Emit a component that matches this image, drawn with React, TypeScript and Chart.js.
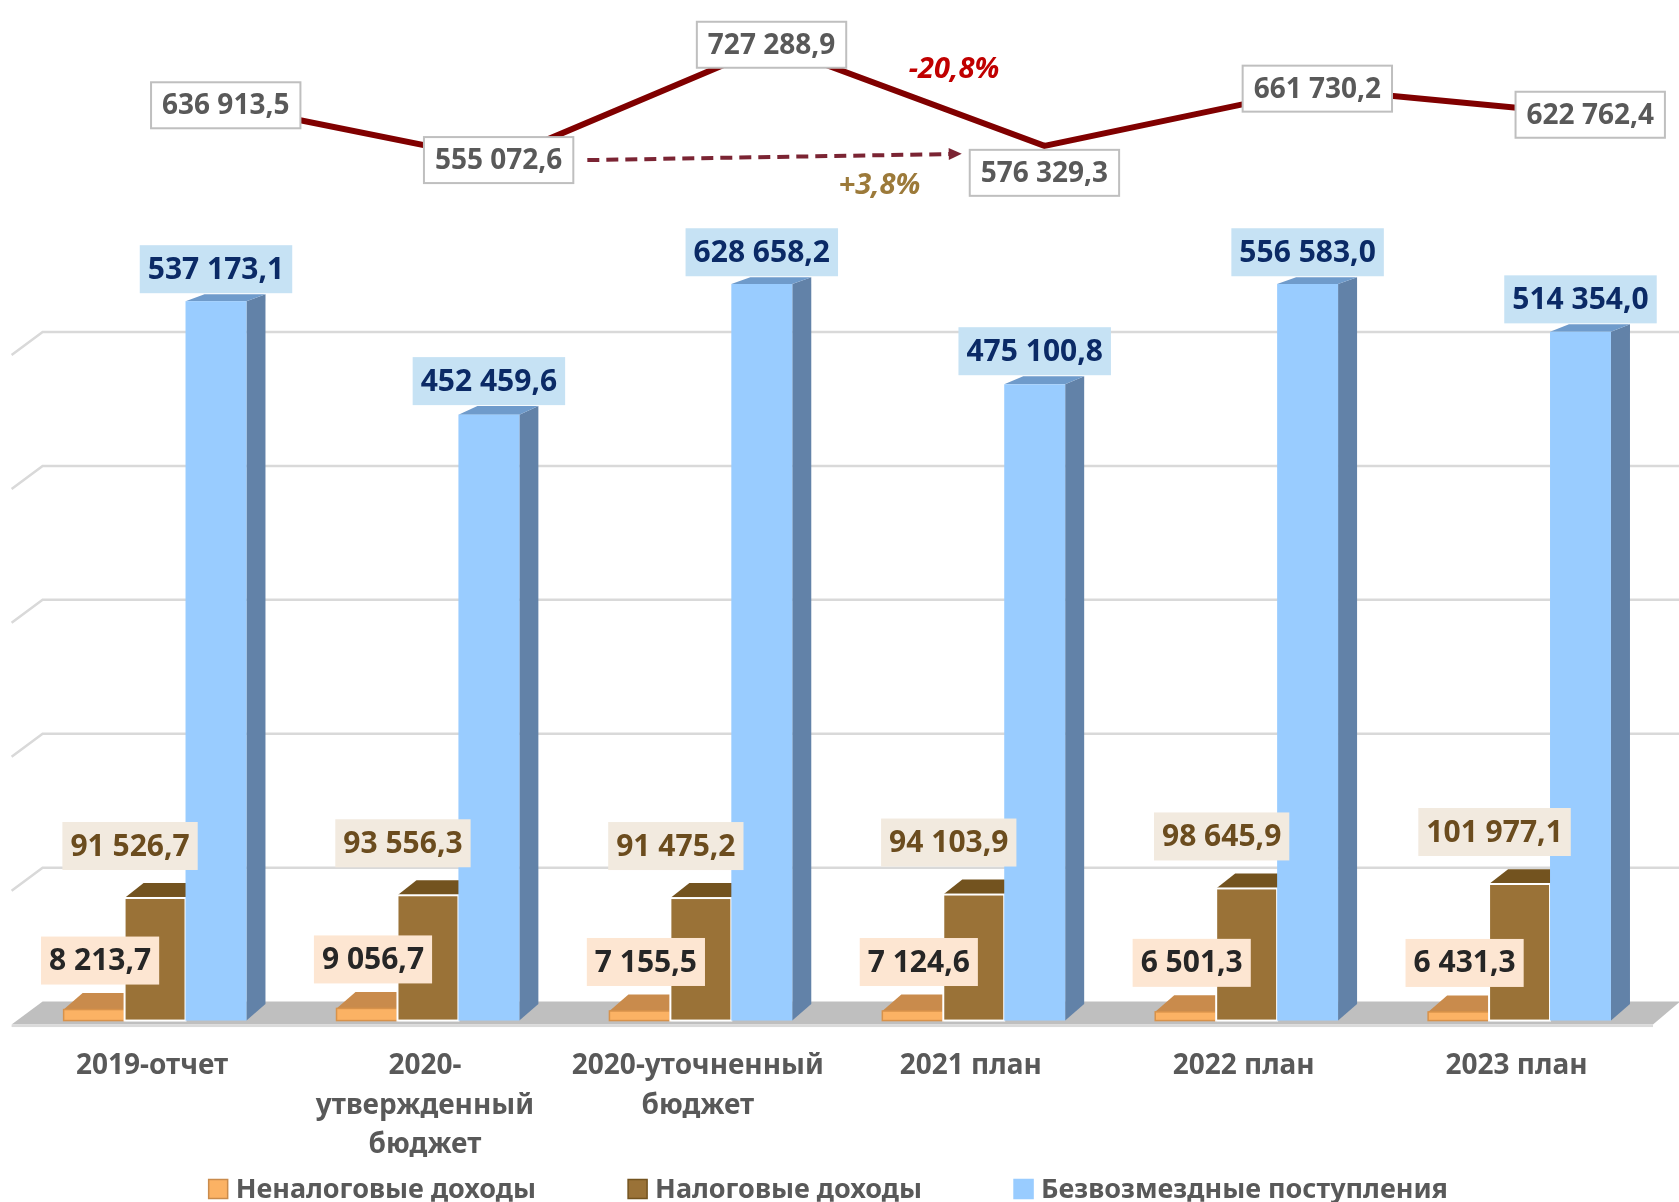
import React, { useEffect, useRef } from 'react';
import { Chart, registerables } from 'chart.js';

Chart.register(...registerables);

// ---------- data ----------
const categories: (string | string[])[] = [
  '2019-отчет',
  ['2020-', 'утвержденный', 'бюджет'],
  ['2020-уточненный', 'бюджет'],
  '2021 план',
  '2022 план',
  '2023 план',
];
const seriesNames = ['Неналоговые доходы', 'Налоговые доходы', 'Безвозмездные поступления'];
const nonTaxIncome = [8213.7, 9056.7, 7155.5, 7124.6, 6501.3, 6431.3];
const taxIncome = [91526.7, 93556.3, 91475.2, 94103.9, 98645.9, 101977.1];
const grants = [537173.1, 452459.6, 628658.2, 475100.8, 556583.0, 514354.0];
const totals = [636913.5, 555072.6, 727288.9, 576329.3, 661730.2, 622762.4];
const gridValues = [100000, 200000, 300000, 400000, 500000];
const barAxisMax = 550000;
const changeDown = '-20,8%';
const changeUp = '+3,8%';

// ---------- styles ----------
const FONT = '"Noto Sans", "DejaVu Sans", sans-serif';
const DX = 19;
const PK = 0.01347;
const PH = -217;
const GROUP_FRACTION = 0.67;
const GROUP_SHIFT = 3;
const barStyles = [
  { front: '#FBB264', top: '#C98B4C', side: '#B27A3E', stroke: '#D8924A', strokeW: 1.5, label: '#FDE6D2', text: '#262626' },
  { front: '#9A7237', top: '#73531F', side: '#6B4E22', stroke: '#FFFFFF', strokeW: 2, label: '#F2EADF', text: '#6B4C1E' },
  { front: '#99CCFF', top: '#6F9BCB', side: '#6282A8', stroke: '', strokeW: 0, label: '#C6E2F4', text: '#0B2A66' },
];

function fmt(v: number): string {
  const [i, d] = v.toFixed(1).split('.');
  return i.replace(/\B(?=(\d{3})+(?!\d))/g, ' ') + ',' + d;
}

function poly(ctx: CanvasRenderingContext2D, pts: number[][], fill: string) {
  ctx.beginPath();
  ctx.moveTo(pts[0][0], pts[0][1]);
  for (let k = 1; k < pts.length; k++) ctx.lineTo(pts[k][0], pts[k][1]);
  ctx.closePath();
  ctx.fillStyle = fill;
  ctx.fill();
}

function barGeom(chart: any, d: number, i: number) {
  const ca = chart.chartArea;
  const xs = chart.scales.x;
  const ys = chart.scales.y;
  const cw = (xs.right - xs.left) / categories.length;
  const bw = (cw * GROUP_FRACTION) / 3;
  const cx = xs.getPixelForValue(i) + GROUP_SHIFT;
  const left = cx - 1.5 * bw + d * bw;
  const right = left + bw;
  const val = chart.data.datasets[d].data[i] as number;
  const top = Math.max(ys.getPixelForValue(val), ca.top);
  const base = ys.getPixelForValue(0);
  const dyT = PK * (top - PH);
  const dyB = PK * (base - PH);
  return { x: (left + right) / 2, left, right, top, base, dyT, dyB, val };
}

const threeDPlugin = {
  id: 'threeD',
  beforeDatasetDraw(chart: any, args: any) {
    if (args.meta.type === 'bar') return false;
    return true;
  },
  beforeDatasetsDraw(chart: any) {
    const ctx: CanvasRenderingContext2D = chart.ctx;
    const ca = chart.chartArea;
    const ys = chart.scales.y;
    const B = ys.getPixelForValue(0);
    const fl = ca.left - 4;
    const fb = ca.left + 27;
    ctx.save();
    // floor
    poly(ctx, [[fl, B + 4], [ca.right, B + 4], [ca.right + 27, B - 19], [fb, B - 19]], '#BFBFBF');
    ctx.fillStyle = '#DADADA';
    ctx.fillRect(fl, B + 4, ca.right - fl, 2.5);
    // wall gridlines
    ctx.strokeStyle = '#D9D9D9';
    ctx.lineWidth = 2.5;
    for (const v of gridValues) {
      const f = ys.getPixelForValue(v);
      ctx.beginPath();
      ctx.moveTo(fl, f + 4);
      ctx.lineTo(fb, f - 19);
      ctx.lineTo(chart.width, f - 19);
      ctx.stroke();
    }
    // bars
    for (let i = 0; i < categories.length; i++) {
      for (let d = 0; d < 3; d++) {
        const g = barGeom(chart, d, i);
        const s = barStyles[d];
        poly(ctx, [[g.right, g.top], [g.right + DX, g.top - g.dyT], [g.right + DX, g.base - g.dyB], [g.right, g.base]], s.side);
        poly(ctx, [[g.left, g.top], [g.left + DX, g.top - g.dyT], [g.right + DX, g.top - g.dyT], [g.right, g.top]], s.top);
        ctx.fillStyle = s.front;
        ctx.fillRect(g.left, g.top, g.right - g.left, g.base - g.top);
        if (s.strokeW) {
          ctx.strokeStyle = s.stroke;
          ctx.lineWidth = s.strokeW;
          ctx.strokeRect(g.left, g.top, g.right - g.left, g.base - g.top);
        }
      }
    }
    ctx.restore();
  },
  afterDatasetsDraw(chart: any) {
    const ctx: CanvasRenderingContext2D = chart.ctx;
    ctx.save();
    ctx.textAlign = 'center';
    ctx.textBaseline = 'middle';
    // bar labels
    ctx.font = `bold 30px ${FONT}`;
    for (let i = 0; i < categories.length; i++) {
      for (let d = 0; d < 3; d++) {
        const g = barGeom(chart, d, i);
        const s = barStyles[d];
        const txt = fmt(g.val);
        const w = ctx.measureText(txt).width + 16;
        const h = 48;
        let cx: number, bottom: number;
        if (d === 2) { cx = g.x; bottom = g.top - g.dyT - 1; }
        else if (d === 1) { cx = g.x - 25; bottom = g.top - 28; }
        else { cx = g.x + 6; bottom = g.top - 25; }
        ctx.fillStyle = s.label;
        ctx.fillRect(cx - w / 2, bottom - h, w, h);
        ctx.fillStyle = s.text;
        ctx.fillText(txt, cx, bottom - h / 2 + 1);
      }
    }
    // line labels
    const lm = chart.getDatasetMeta(3);
    ctx.font = `bold 28px ${FONT}`;
    const boxes: { l: number; r: number; t: number; b: number; cy: number }[] = [];
    for (let i = 0; i < totals.length; i++) {
      const pt = lm.data[i];
      const txt = fmt(totals[i]);
      const w = ctx.measureText(txt).width + 22;
      const h = 46;
      const cy = i === 3 ? pt.y + 4 + h / 2 : pt.y;
      const b = { l: pt.x - w / 2, r: pt.x + w / 2, t: cy - h / 2, b: cy + h / 2, cy };
      boxes.push(b);
      ctx.fillStyle = '#FFFFFF';
      ctx.fillRect(b.l, b.t, w, h);
      ctx.strokeStyle = '#BFBFBF';
      ctx.lineWidth = 2;
      ctx.strokeRect(b.l, b.t, w, h);
      ctx.fillStyle = '#595959';
      ctx.fillText(txt, pt.x, cy + 1);
    }
    // dashed arrow from the 2020 approved total to the 2021 total
    const a0x = boxes[1].r + 14, a0y = boxes[1].cy;
    const a1x = boxes[3].l - 8, a1y = boxes[3].t + 4;
    ctx.strokeStyle = '#7B2433';
    ctx.fillStyle = '#7B2433';
    ctx.lineWidth = 4;
    ctx.setLineDash([12, 7]);
    ctx.beginPath();
    ctx.moveTo(a0x, a0y);
    ctx.lineTo(a1x - 10, a1y + ((a0y - a1y) * 10) / (a1x - a0x));
    ctx.stroke();
    ctx.setLineDash([]);
    const ang = Math.atan2(a1y - a0y, a1x - a0x);
    ctx.beginPath();
    ctx.moveTo(a1x, a1y);
    ctx.lineTo(a1x - 13 * Math.cos(ang) + 6 * Math.sin(ang), a1y - 13 * Math.sin(ang) - 6 * Math.cos(ang));
    ctx.lineTo(a1x - 13 * Math.cos(ang) - 6 * Math.sin(ang), a1y - 13 * Math.sin(ang) + 6 * Math.cos(ang));
    ctx.closePath();
    ctx.fill();
    // percentage labels
    ctx.font = `italic bold 29px ${FONT}`;
    const p3 = lm.data[2], p4 = lm.data[3];
    ctx.fillStyle = '#C00000';
    ctx.fillText(changeDown, (p3.x + p4.x) / 2 + 46, (p3.y + p4.y) / 2 - 26);
    ctx.fillStyle = '#9C7A3A';
    ctx.fillText(changeUp, (a0x + a1x) / 2 + 105, (a0y + a1y) / 2 + 29);
    ctx.restore();
  },
  afterDraw(chart: any) {
    const ctx: CanvasRenderingContext2D = chart.ctx;
    const ca = chart.chartArea;
    ctx.save();
    ctx.font = `bold 27px ${FONT}`;
    ctx.textBaseline = 'middle';
    ctx.textAlign = 'left';
    const sq = 19, gap = 8, itemGap = 92;
    const widths = seriesNames.map((n) => sq + gap + ctx.measureText(n).width);
    const total = widths.reduce((a, b) => a + b, 0) + itemGap * (widths.length - 1);
    let x = (ca.left + ca.right) / 2 - total / 2 - 6;
    const cy = 1189;
    const borders = ['#C98B4C', '#73531F', '#99CCFF'];
    seriesNames.forEach((n, k) => {
      ctx.fillStyle = barStyles[k].front;
      ctx.fillRect(x, cy - sq / 2, sq, sq);
      ctx.strokeStyle = borders[k];
      ctx.lineWidth = 1.5;
      ctx.strokeRect(x, cy - sq / 2, sq, sq);
      ctx.fillStyle = '#595959';
      ctx.fillText(n, x + sq + gap, cy + 1);
      x += widths[k] + itemGap;
    });
    ctx.restore();
  },
};

export default function App() {
  const ref = useRef<HTMLCanvasElement>(null);
  useEffect(() => {
    document.body.style.margin = '0';
    Chart.defaults.font.family = FONT;
    const barSets = [nonTaxIncome, taxIncome, grants].map((arr, d) => ({
      type: 'bar' as const,
      label: seriesNames[d],
      data: arr,
      backgroundColor: barStyles[d].front,
      xAxisID: 'x',
      yAxisID: 'y',
    }));
    const chart = new Chart(ref.current as HTMLCanvasElement, {
      type: 'bar',
      data: {
        labels: categories as any,
        datasets: [
          ...barSets,
          {
            type: 'line' as const,
            label: 'Итого',
            data: totals.map((v, i) => ({ x: i, y: v })),
            xAxisID: 'x2',
            yAxisID: 'y2',
            borderColor: '#800000',
            borderWidth: 6,
            pointRadius: 0,
            tension: 0,
            clip: false as any,
          } as any,
        ],
      },
      options: {
        responsive: false,
        animation: false,
        devicePixelRatio: 1,
        layout: { padding: { top: 284, left: 15.6, right: 26, bottom: 11 } },
        plugins: { legend: { display: false }, tooltip: { enabled: false } },
        scales: {
          x: {
            type: 'category',
            offset: true,
            grid: { display: false, drawTicks: false },
            border: { display: false },
            ticks: {
              color: '#595959',
              font: { size: 28, weight: 'bold', lineHeight: 1.41, family: FONT },
              padding: 26,
              maxRotation: 0,
              minRotation: 0,
              autoSkip: false,
            },
          },
          y: { type: 'linear', min: 0, max: barAxisMax, display: false },
          x2: { type: 'linear', min: -0.77, max: 5.23, offset: false, grid: { offset: false }, display: false },
          y2: { type: 'linear', min: -730000, max: 370000, display: false },
        },
      } as any,
      plugins: [threeDPlugin],
    });
    return () => chart.destroy();
  }, []);
  return (
    <div style={{ width: 1679, height: 1202, background: '#FFFFFF' }}>
      <canvas ref={ref} width={1679} height={1202} style={{ display: 'block', width: 1679, height: 1202 }} />
    </div>
  );
}
